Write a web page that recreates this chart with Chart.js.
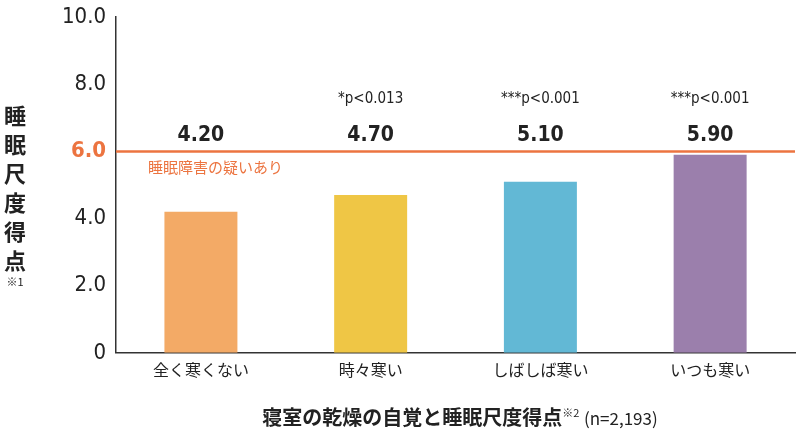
<!DOCTYPE html>
<html><head><meta charset="utf-8">
<script src="https://cdn.jsdelivr.net/npm/chart.js@4"></script>
<style>body{margin:0;background:#fff}#wrap{position:relative;width:800px;height:440px}
#ytitle{position:absolute;left:0;top:100px;width:30px;font:bold 22px "Noto Sans CJK JP";color:#222;text-align:center;line-height:29px}
#ytitle small{font-size:11px;font-weight:normal;display:block;line-height:14px}
#xtitle{position:absolute;left:110px;width:700px;top:402px;text-align:center;font:bold 20px "Noto Sans CJK JP";color:#222}
#xtitle sup{font-size:11px;font-weight:normal}#xtitle span{font-weight:normal;font-size:17px}</style>
</head><body><div id="wrap"><canvas id="c" width="800" height="440"></canvas>
<div id="ytitle">睡<br>眠<br>尺<br>度<br>得<br>点<small>※1</small></div>
<div id="xtitle">寝室の乾燥の自覚と睡眠尺度得点<sup>※2</sup> <span>(n=2,193)</span></div></div>
<script>
// データ
const categories = ['全く寒くない', '時々寒い', 'しばしば寒い', 'いつも寒い'];
const values = [4.2, 4.7, 5.1, 5.9];
const valueLabels = ['4.20', '4.70', '5.10', '5.90'];
const pLabels = ['', '*p<0.013', '***p<0.001', '***p<0.001'];
const tickLabels = {0: '0', 2: '2.0', 4: '4.0', 6: '6.0', 8: '8.0', 10: '10.0'};
const threshold = 6.0;
const colors = ['#f3aa66', '#efc645', '#62b8d5', '#9b7fac'];

const annot = {
  id: 'annot',
  afterDatasetsDraw(chart) {
    const ctx = chart.ctx, x = chart.scales.x, y = chart.scales.y;
    const yt = y.getPixelForValue(threshold);
    ctx.save();
    ctx.strokeStyle = '#ec7440'; ctx.lineWidth = 2.5;
    ctx.beginPath(); ctx.moveTo(x.left, yt); ctx.lineTo(x.right, yt); ctx.stroke();
    ctx.fillStyle = '#ec7440'; ctx.font = '15px "Noto Sans CJK JP"'; ctx.textAlign = 'left';
    ctx.fillText('睡眠障害の疑いあり', x.left + 32, yt + 22);
    ctx.textAlign = 'center'; ctx.fillStyle = '#222';
    categories.forEach((c, i) => {
      const cx = x.getPixelForValue(i);
      ctx.font = 'bold 21px "Liberation Sans Narrow", "DejaVu Sans Condensed", sans-serif';
      ctx.fillText(valueLabels[i], cx, yt - 10);
      ctx.font = '15px "DejaVu Sans Condensed", sans-serif';
      if (pLabels[i]) ctx.fillText(pLabels[i], cx, yt - 48);
    });
    ctx.restore();
  }
};

new Chart(document.getElementById('c'), {
  type: 'bar',
  data: { labels: categories, datasets: [{ data: values, backgroundColor: colors, barPercentage: 0.43, categoryPercentage: 1 }] },
  options: {
    responsive: false, animation: false,
    layout: { padding: { left: 58, right: 5, top: 12, bottom: 52 } },
    plugins: { legend: { display: false }, tooltip: { enabled: false } },
    scales: {
      x: { grid: { display: false, drawTicks: false }, border: { color: '#333', width: 1.5 },
           ticks: { color: '#222', padding: 8, font: { size: 16, family: '"Noto Sans CJK JP"' } } },
      y: { min: 0, max: 10, grid: { display: false, drawTicks: true, tickLength: 6, color: '#333' },
           border: { color: '#333', width: 1.5 },
           ticks: { stepSize: 2, padding: 4,
             callback: v => tickLabels[v],
             color: c => c.tick.value === threshold ? '#ec7440' : '#222',
             font: c => ({ size: 22, family: '"Liberation Sans Narrow", "DejaVu Sans Condensed", sans-serif', weight: c.tick && c.tick.value === threshold ? 'bold' : 'normal' }) } }
    }
  },
  plugins: [annot]
});
</script></body></html>
